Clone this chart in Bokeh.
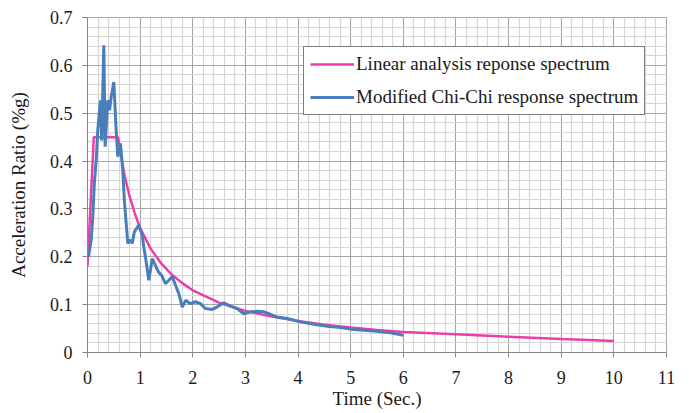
from bokeh.plotting import figure
from bokeh.models import FixedTicker, CustomJSTickFormatter, Legend, LegendItem, Range1d
from bokeh.embed import file_html
from bokeh.resources import INLINE

# ---- data ----
linear_t = [0, 0.12, 0.58, 0.7, 0.8, 0.9, 1.0, 1.2, 1.4, 1.6, 1.8, 2.0, 2.5, 3.0,
            3.5, 4.0, 4.5, 5.0, 5.5, 6.0, 7.0, 8.0, 9.0, 10.0]
linear_v = [0.18, 0.45, 0.45, 0.372, 0.326, 0.29, 0.26, 0.217, 0.186, 0.163, 0.145,
            0.13, 0.104, 0.087, 0.075, 0.066, 0.058, 0.052, 0.047, 0.043, 0.038,
            0.033, 0.028, 0.024]

chichi_t = [0.02, 0.07, 0.10, 0.13, 0.165, 0.195, 0.245, 0.27, 0.31, 0.335, 0.385,
            0.42, 0.45, 0.50, 0.545, 0.575, 0.625, 0.67, 0.70, 0.735, 0.765, 0.815,
            0.85, 0.89, 0.975, 1.005, 1.04, 1.07, 1.10, 1.165, 1.23, 1.29, 1.35, 1.41,
            1.48, 1.545, 1.61, 1.67, 1.735, 1.80, 1.865, 1.955, 2.05, 2.145, 2.24,
            2.365, 2.46, 2.59, 2.715, 2.84, 2.97, 3.095, 3.22, 3.35, 3.445, 3.605,
            3.795, 4.045, 4.30, 4.555, 4.805, 5.06, 5.44, 5.755, 6.0]
chichi_v = [0.20, 0.235, 0.283, 0.354, 0.402, 0.464, 0.527, 0.443, 0.642, 0.430,
            0.527, 0.506, 0.534, 0.565, 0.464, 0.409, 0.437, 0.381, 0.318, 0.270,
            0.228, 0.235, 0.228, 0.252, 0.266, 0.256, 0.245, 0.22, 0.200, 0.151,
            0.196, 0.182, 0.168, 0.161, 0.144, 0.151, 0.159, 0.141, 0.123, 0.095,
            0.109, 0.102, 0.106, 0.102, 0.092, 0.090, 0.095, 0.104, 0.097, 0.092,
            0.081, 0.085, 0.086, 0.085, 0.081, 0.074, 0.071, 0.064, 0.059, 0.055,
            0.052, 0.048, 0.045, 0.041, 0.036]

x_ticks = [0, 1, 2, 3, 4, 5, 6, 7, 8, 9, 10, 11]
y_ticks = [0, 0.1, 0.2, 0.3, 0.4, 0.5, 0.6, 0.7]

label_linear = "Linear analysis reponse spectrum"
label_chichi = "Modified Chi-Chi response spectrum"
x_title = "Time (Sec.)"
y_title = "Acceleration Ratio (%g)"

SERIF = "Liberation Serif"

p = figure(width=681, height=413, output_backend="svg", toolbar_location=None,
           x_range=Range1d(0, 11), y_range=Range1d(0, 0.7),
           min_border_left=87, min_border_right=15, min_border_top=17,
           min_border_bottom=61, background_fill_color="white",
           border_fill_color="white")

x_minor = [i / 5 for i in range(0, 56)]
y_minor = [i / 50 for i in range(0, 36)]
xt = FixedTicker(ticks=x_ticks, minor_ticks=x_minor)
yt = FixedTicker(ticks=y_ticks, minor_ticks=y_minor)
p.xaxis.ticker = xt
p.yaxis.ticker = yt
p.xgrid.ticker = xt
p.ygrid.ticker = yt

for g in (p.xgrid, p.ygrid):
    g.grid_line_color = "#A6A6A6"
    g.grid_line_width = 1
    g.minor_grid_line_color = "#D6D6D6"
    g.minor_grid_line_width = 1.2
    g.level = "underlay"

p.outline_line_color = "#A6A6A6"

p.yaxis.formatter = CustomJSTickFormatter(
    code="return tick == 0 ? '0' : tick.toFixed(1);")

for ax in (p.xaxis, p.yaxis):
    ax.axis_line_color = "#868686"
    ax.major_tick_line_color = "#868686"
    ax.major_tick_out = 5
    ax.major_tick_in = 0
    ax.minor_tick_line_color = None
    ax.major_label_text_font = SERIF
    ax.major_label_text_font_size = "18px"
    ax.major_label_text_color = "#1a1a1a"
    ax.axis_label_text_font = SERIF
    ax.axis_label_text_font_size = "19px"
    ax.axis_label_text_font_style = "normal"
    ax.axis_label_text_color = "#1a1a1a"

p.xaxis.axis_label = x_title
p.yaxis.axis_label = y_title
p.xaxis.major_label_standoff = 13
p.xaxis.axis_label_standoff = 1
p.yaxis.major_label_standoff = 10
p.yaxis.axis_label_standoff = 18

r1 = p.line(linear_t, linear_v, line_color="#E840A8", line_width=2.5)
r2 = p.line(chichi_t, chichi_v, line_color="#4A7EBB", line_width=3)

legend = Legend(items=[LegendItem(label=label_linear, renderers=[r1]),
                       LegendItem(label=label_chichi, renderers=[r2])],
                location=(216, 237), margin=0, padding=6, spacing=11,
                glyph_width=44, glyph_height=20, label_height=20,
                label_standoff=2, border_line_color="#000000",
                border_line_width=1, background_fill_color="white",
                background_fill_alpha=1.0,
                label_text_font=SERIF, label_text_font_size="19px",
                label_text_color="#1a1a1a")
p.add_layout(legend)

open("out.html", "w").write(file_html(p, INLINE))
